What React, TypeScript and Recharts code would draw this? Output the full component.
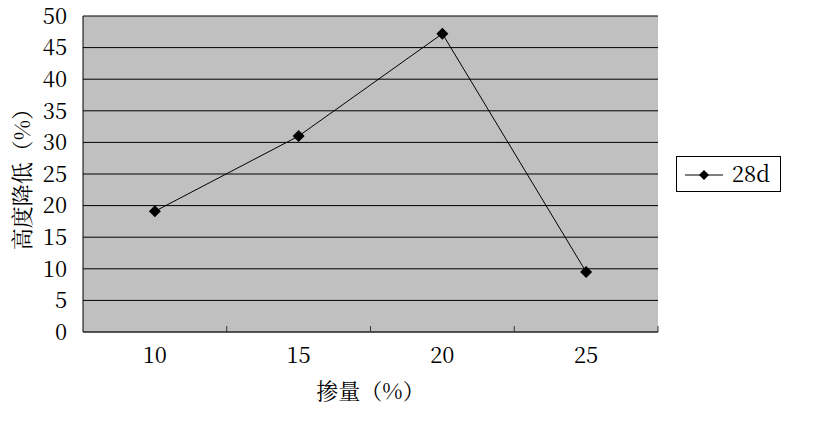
import { LineChart, Line, XAxis, YAxis, CartesianGrid } from "recharts";

const dosages = ["10", "15", "20", "25"];
const reduction28d = [19.1, 31.0, 47.2, 9.5];
const yTicks = [0, 5, 10, 15, 20, 25, 30, 35, 40, 45, 50];

const data = dosages.map((d, i) => ({ dosage: d, d28: reduction28d[i] }));

const SERIF = "'Noto Serif CJK SC', 'Liberation Serif', serif";
const CJK = "'Noto Serif CJK SC', 'Noto Sans CJK SC', serif";

function Diamond({ cx, cy, r = 5 }: { cx: number; cy: number; r?: number }) {
  return (
    <polygon
      points={`${cx},${cy - r} ${cx + r},${cy} ${cx},${cy + r} ${cx - r},${cy}`}
      fill="#000"
    />
  );
}

function XTick(props: any) {
  const { x, y, payload } = props;
  const off = payload.offset || 0;
  return (
    <g>
      <line x1={x + off} x2={x + off} y1={y} y2={y - 6} stroke="#333" />
      <text
        x={x}
        y={y + 31}
        textAnchor="middle"
        style={{ fontFamily: SERIF }}
        fontSize={22}
        fill="#000"
      >
        {payload.value}
      </text>
    </g>
  );
}

export default function App() {
  return (
    <div style={{ position: "absolute", left: 0, top: 0, background: "#fff" }}>
      <LineChart
        width={819}
        height={421}
        data={data}
        margin={{ top: 16, right: 161, left: 0, bottom: 0 }}
      >
        <CartesianGrid
          fill="#c0c0c0"
          fillOpacity={1}
          vertical={false}
          stroke="#000"
          strokeOpacity={1}
        />
        <XAxis
          dataKey="dosage"
          scale="band"
          height={89}
          tick={<XTick />}
          tickLine={false}
          tickSize={0}
          tickMargin={0}
          axisLine={{ stroke: "#333" }}
          interval={0}
          label={{
            value: "掺量（%）",
            position: "insideBottom",
            offset: 22,
            style: { fontFamily: CJK, fill: "#000" },
            fontSize: 22,
          }}
        />
        <YAxis
          width={83}
          domain={[0, 50]}
          ticks={yTicks}
          interval={0}
          tickLine={false}
          axisLine={{ stroke: "#000" }}
          tickMargin={10}
          tick={{ style: { fontFamily: SERIF }, fontSize: 22, fill: "#000" }}
          label={{
            value: "高度降低（%）",
            angle: -90,
            position: "insideLeft",
            offset: 22,
            style: { textAnchor: "middle", fontFamily: CJK, fill: "#000" },
            fontSize: 22,
          }}
        />
        <YAxis
          yAxisId="right"
          orientation="right"
          width={0}
          domain={[0, 50]}
          tick={false}
          tickLine={false}
          axisLine={{ stroke: "#808080" }}
        />
        <Line
          dataKey="d28"
          name="28d"
          stroke="#000"
          strokeWidth={1}
          isAnimationActive={false}
          dot={(p: any) => <Diamond key={p.index} cx={p.cx} cy={p.cy} r={6} />}
        />
      </LineChart>
      <div
        style={{
          position: "absolute",
          left: 676,
          top: 156,
          width: 103,
          height: 34,
          border: "1px solid #000",
          background: "#fff",
        }}
      >
        <svg width={103} height={34} style={{ display: "block" }}>
          <line x1={8} x2={46} y1={18} y2={18} stroke="#000" />
          <Diamond cx={27} cy={18} r={5} />
          <text
            x={55}
            y={25}
            style={{ fontFamily: SERIF }}
            fontSize={22}
            fill="#000"
          >
            28d
          </text>
        </svg>
      </div>
    </div>
  );
}
